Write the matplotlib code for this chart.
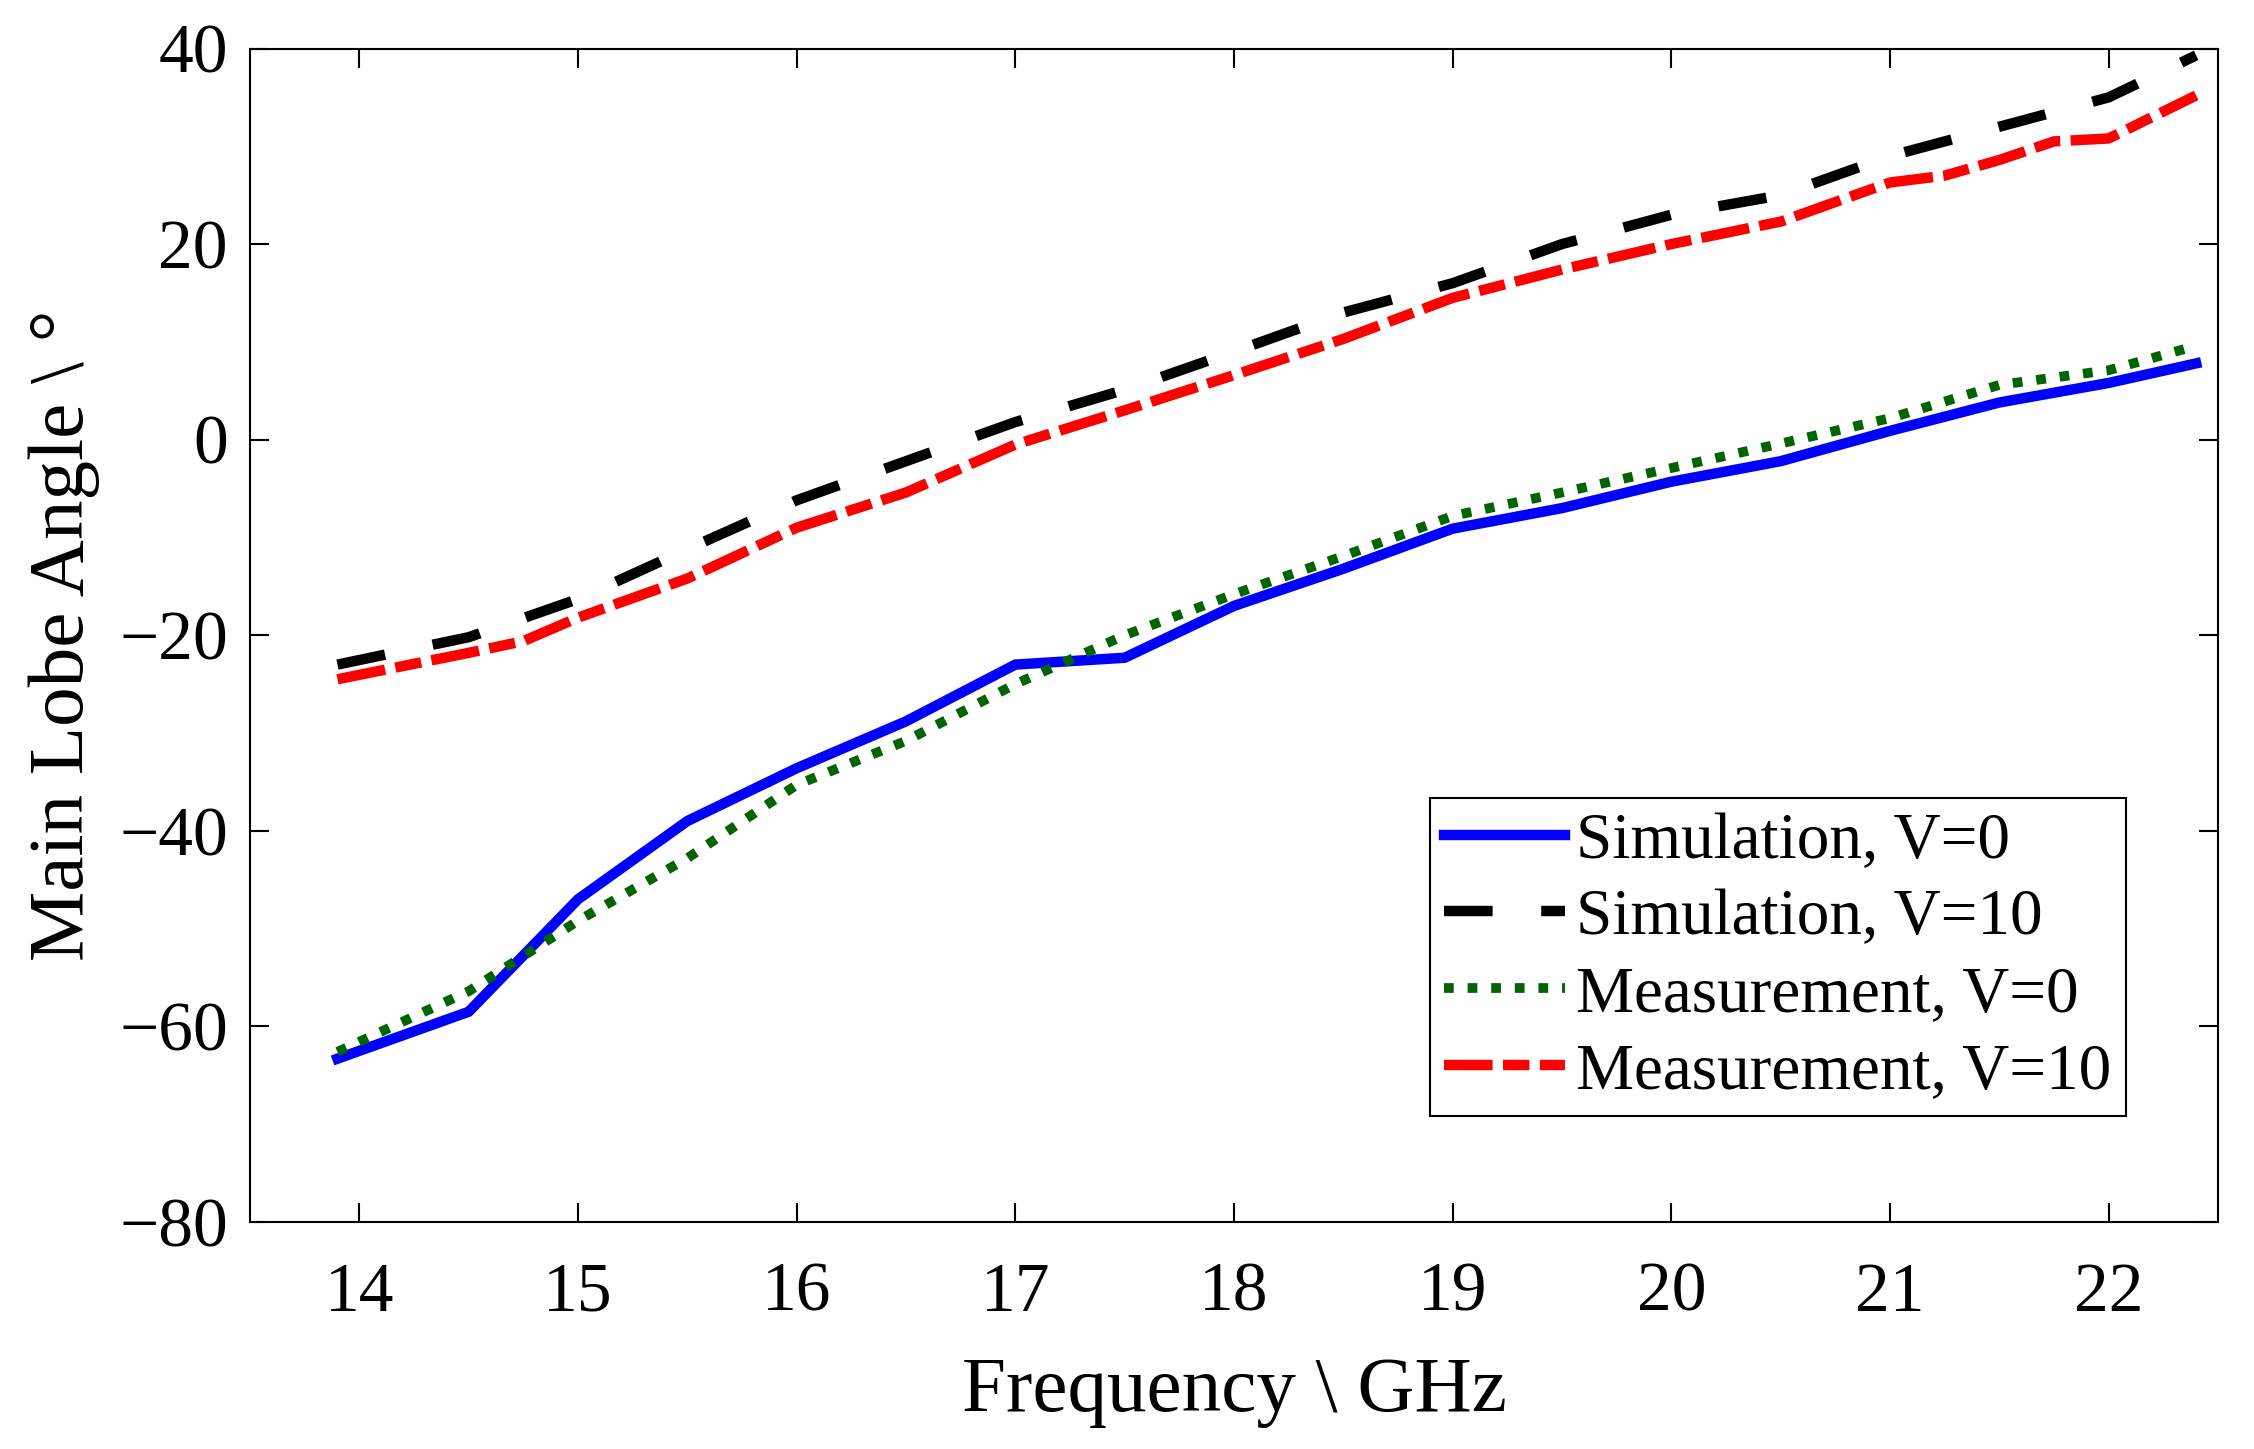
import matplotlib
matplotlib.use('Agg')
import matplotlib.pyplot as plt

# Data
freq_sim = [13.9, 14.5, 15.0, 15.5, 16.0, 16.5, 17.0, 17.5, 18.0, 18.5, 19.0, 19.5, 20.0, 20.5, 21.0, 21.5, 22.0, 22.4]
sim_v0 = [-63.3, -58.5, -47.0, -39.0, -33.6, -28.8, -23.0, -22.3, -17.0, -13.2, -9.1, -7.0, -4.3, -2.2, 0.9, 3.8, 5.8, 7.8]
sim_v10 = [-23.0, -20.2, -16.3, -11.2, -6.2, -2.2, 1.8, 5.1, 9.0, 13.0, 16.0, 20.0, 23.0, 25.0, 29.0, 32.0, 35.0, 39.3]

freq_meas0 = [13.9, 14.5, 15.0, 15.5, 16.0, 16.5, 17.0, 17.5, 18.0, 18.5, 19.0, 19.5, 20.0, 20.5, 21.0, 21.5, 22.0, 22.4]
meas_v0 = [-62.6, -56.4, -49.2, -42.8, -35.3, -30.8, -25.0, -20.0, -15.8, -11.9, -7.8, -5.4, -2.9, -0.4, 2.2, 5.6, 7.1, 9.6]

freq_meas10 = [13.9, 14.5, 14.75, 15.0, 15.5, 16.0, 16.5, 17.0, 17.5, 18.0, 18.5, 19.0, 19.5, 20.0, 20.5, 21.0, 21.25, 21.5,
               21.75, 22.0, 22.4]
meas_v10 = [-24.5, -21.8, -20.6, -18.2, -14.2, -9.0, -5.4, -0.5, 3.0, 6.6, 10.3, 14.5, 17.4, 20.0, 22.3, 26.3, 27.0, 28.6,
            30.5, 30.8, 35.2]

labels = ['Simulation, V=0', 'Simulation, V=10', 'Measurement, V=0', 'Measurement, V=10']
xticks = [14, 15, 16, 17, 18, 19, 20, 21, 22]
yticks = [-80, -60, -40, -20, 0, 20, 40]

plt.rcParams['font.family'] = ['Liberation Serif', 'DejaVu Serif']
plt.rcParams['lines.scale_dashes'] = False

fig = plt.figure(figsize=(22.54, 14.49), dpi=100)
ax = fig.add_axes([250 / 2254, 1 - 1222 / 1449, (2218 - 250) / 2254, (1222 - 48.5) / 1449])

lw = 7.5
ax.plot(freq_sim, sim_v0, color='#0000ff', lw=lw, solid_joinstyle='miter', label=labels[0])
ax.plot(freq_sim, sim_v10, color='black', lw=lw, dashes=(35, 35), dash_capstyle='butt', label=labels[1])
ax.plot(freq_meas0, meas_v0, color='#006400', lw=7, dashes=(7, 10), dash_capstyle='butt', label=labels[2])
ax.plot(freq_meas10, meas_v10, color='#ff0000', lw=lw, dashes=(35, 7.5, 19, 7.5), dash_capstyle='butt', label=labels[3])

ax.set_xlim(13.5, 22.5)
ax.set_ylim(-80, 40)
ax.set_xticks(xticks)
ax.set_yticks(yticks)
ax.tick_params(axis='both', which='both', direction='in', top=True, right=True,
               length=14, width=1.5, labelsize=50)
ax.tick_params(axis='x', pad=29)
ax.tick_params(axis='y', pad=16)
for sp in ax.spines.values():
    sp.set_linewidth(1.5)

ax.set_xlabel('Frequency \\ GHz', fontsize=57, labelpad=22)
ax.set_ylabel('Main Lobe Angle \\ °', fontsize=57, labelpad=14)

leg = ax.legend(loc='lower right', bbox_to_anchor=(0.953, 0.0903), borderaxespad=0, fontsize=47,
                handlelength=1.86, handletextpad=0.16, borderpad=0.22, labelspacing=0.26,
                fancybox=False, framealpha=1, edgecolor='black')
leg.get_frame().set_linewidth(1.5)

fig.savefig('out.png', dpi=100)
